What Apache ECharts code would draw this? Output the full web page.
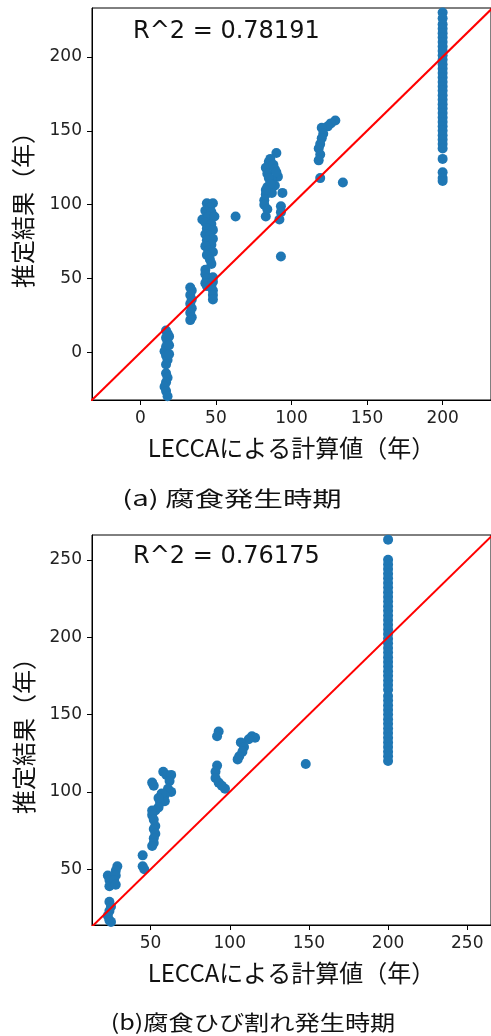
<!DOCTYPE html>
<html>
<head>
<meta charset="utf-8">
<script src="https://cdn.jsdelivr.net/npm/echarts@6/dist/echarts.min.js"></script>
<style>
html,body{margin:0;padding:0;background:#fff;}
#chart{width:491px;height:1036px;}
</style>
</head>
<body>
<div id="chart"></div>
<script>
// ---- (a) 腐食発生時期 ----
const aLecca = [
  17,18,17,18,17,16,17,18,17,17,18,17,16,17,18,19,19,19,
  33,34,33,34,33,34,33,34,33,
  44,48,46,43,47,41,45,49,43,47,44,48,43,46,48,44,47,43,45,48,44,46,47,
  43,43,44,43,44,48,48,47,48,48,48,
  63,
  90,85,83,84,91,87,84,89,82,83,87,94,83,93,93,92,93,86,88,89,90,85,86,83,82,84,
  129,126,124,120,121,120,119,118,119,118,119,
  134,
  200,200,200,200,200,200,200,200,200,200,200,200,200,200,200,200,200,200,200,200,
  200,200,200,200,200,200,200,200,200,200,200,200,200,200,200
];
const aEstimate = [
  15,13,10,7,4,1,-2,-5,-8,-14,-17,-20,-23,-26,-29.5,11,5,-1,
  44,42,39,36,33,30,27,24,22,
  101,101,98,96,95,90,92,92,88,87,84,83,80,79,77,76,73,72,69,68,66,63,60,
  56,53,50,47,45,51,48,45,42,39,36,
  92,
  135,129,125,121,119,117,112,113,103,107,108,108,92,99,95,90,65,131,127,124,122,118,114,110,100,97,
  157,155,153,152,148,145,141,138,134,130,118,
  115,
  230,226,222,219,216,213,210,207,204,201,198,195,192,189,186,183,180,177,174,171,
  168,165,162,159,156,153,150,147,144,141,138,131,122,118,116
];
const aTicks = [0, 50, 100, 150, 200];
const aR2 = 'R^2 = 0.78191';

// ---- (b) 腐食ひび割れ発生時期 ----
const bLecca = [
  23,24,24,29,28,28,27,28,24,25,24,23,24,25,
  45,45,46,
  51,52,58,60,63,62,63,61,59,57,59,56,55,53,51,51,52,53,52,53,52,52,51,57,55,
  93,92,92,91,91,93,97,95,
  114,116,112,107,109,108,106,105,
  148,
  200,200,200,200,200,200,200,200,200,200,200,200,200,200,200,200,200,200,200,200,
  200,200,200,200,200,200,200,200,200,200,200,200,200,200,200,200,200,200,200,200,
  200,200,200,200,200
];
const bEstimate = [
  46,43,39,52,49,46,43,40,29,26,23,20,17,16,
  59,52,50,
  106,104,113,111,111,107,100,102,98,96,94,93,90,88,88,85,82,78,76,73,70,67,65,99,96,
  139,136,117,113,109,106,102,104,
  136,135,134,132,129,126,123,121,
  118,
  263,250,247,244,241,238,235,232,229,226,223,220,217,214,211,208,205,202,199,196,
  193,190,187,184,181,178,175,172,169,166,162,159,156,153,150,147,144,141,138,135,
  132,129,126,123,120
];
const bTicksX = [50, 100, 150, 200, 250];
const bTicksY = [50, 100, 150, 200, 250];
const bR2 = 'R^2 = 0.76175';

const xName = 'LECCAによる計算値（年）';
const yName = '推定結果（年）';
const captionA = '(a) 腐食発生時期';
const captionB = '(b)腐食ひび割れ発生時期';
const diagonal = [[-100, -100], [400, 400]];

function pairs(xs, ys) { return xs.map((x, i) => [x, ys[i]]); }

const latinFont = 'DejaVu Sans';
const cjkFont = 'Noto Sans CJK JP';

function axis(opts) {
  return Object.assign({
    type: 'value',
    scale: true,
    axisLine: { show: true, onZero: false, lineStyle: { color: '#000', width: 1 } },
    splitLine: { show: false },
    nameLocation: 'middle',
    nameTextStyle: { fontFamily: cjkFont, fontSize: 24, color: '#111' }
  }, opts);
}

const chart = echarts.init(document.getElementById('chart'), null, { renderer: 'canvas' });
chart.setOption({
  backgroundColor: '#fff',
  animation: false,
  grid: [
    { left: 92, top: 8, width: 400, height: 392, show: true, borderColor: '#000', borderWidth: 1 },
    { left: 92, top: 535, width: 400, height: 390, show: true, borderColor: '#000', borderWidth: 1 }
  ],
  xAxis: [
    axis({ gridIndex: 0, min: -32, max: 232, name: xName, nameGap: 36,
      axisTick: { show: true, length: 5, customValues: aTicks, lineStyle: { color: '#000' } },
      axisLabel: { customValues: aTicks, fontFamily: latinFont, fontSize: 17, color: '#222', margin: 10 } }),
    axis({ gridIndex: 1, min: 13, max: 265, name: xName, nameGap: 36,
      axisTick: { show: true, length: 5, customValues: bTicksX, lineStyle: { color: '#000' } },
      axisLabel: { customValues: bTicksX, fontFamily: latinFont, fontSize: 17, color: '#222', margin: 10 } })
  ],
  yAxis: [
    axis({ gridIndex: 0, min: -32, max: 233, name: yName, nameGap: 57,
      axisTick: { show: true, length: 5, customValues: aTicks, lineStyle: { color: '#000' } },
      axisLabel: { customValues: aTicks, fontFamily: latinFont, fontSize: 17, color: '#222', margin: 10 } }),
    axis({ gridIndex: 1, min: 14, max: 266, name: yName, nameGap: 56,
      axisTick: { show: true, length: 5, customValues: bTicksY, lineStyle: { color: '#000' } },
      axisLabel: { customValues: bTicksY, fontFamily: latinFont, fontSize: 17, color: '#222', margin: 10 } })
  ],
  series: [
    { type: 'scatter', xAxisIndex: 0, yAxisIndex: 0, data: pairs(aLecca, aEstimate),
      symbolSize: 10, itemStyle: { color: '#1f77b4', opacity: 1 }, z: 2 },
    { type: 'line', xAxisIndex: 0, yAxisIndex: 0, data: diagonal, symbol: 'none', clip: true,
      lineStyle: { color: '#ff0000', width: 2 }, z: 3, silent: true },
    { type: 'scatter', xAxisIndex: 1, yAxisIndex: 1, data: pairs(bLecca, bEstimate),
      symbolSize: 10, itemStyle: { color: '#1f77b4', opacity: 1 }, z: 2 },
    { type: 'line', xAxisIndex: 1, yAxisIndex: 1, data: diagonal, symbol: 'none', clip: true,
      lineStyle: { color: '#ff0000', width: 2 }, z: 3, silent: true }
  ],
  graphic: [
    { type: 'text', x: 133, y: 32, style: { text: aR2, fontFamily: latinFont, fontSize: 24, fill: '#111', verticalAlign: 'middle' } },
    { type: 'text', x: 133, y: 557, style: { text: bR2, fontFamily: latinFont, fontSize: 24, fill: '#111', verticalAlign: 'middle' } },
    { type: 'text', x: 232, y: 498, scaleX: 1.4, style: { text: captionA, fontFamily: cjkFont, fontSize: 21, fill: '#111', align: 'center', verticalAlign: 'middle' } },
    { type: 'text', x: 253, y: 1022, scaleX: 1.2, style: { text: captionB, fontFamily: cjkFont, fontSize: 21, fill: '#111', align: 'center', verticalAlign: 'middle' } }
  ]
});
</script>
</body>
</html>
